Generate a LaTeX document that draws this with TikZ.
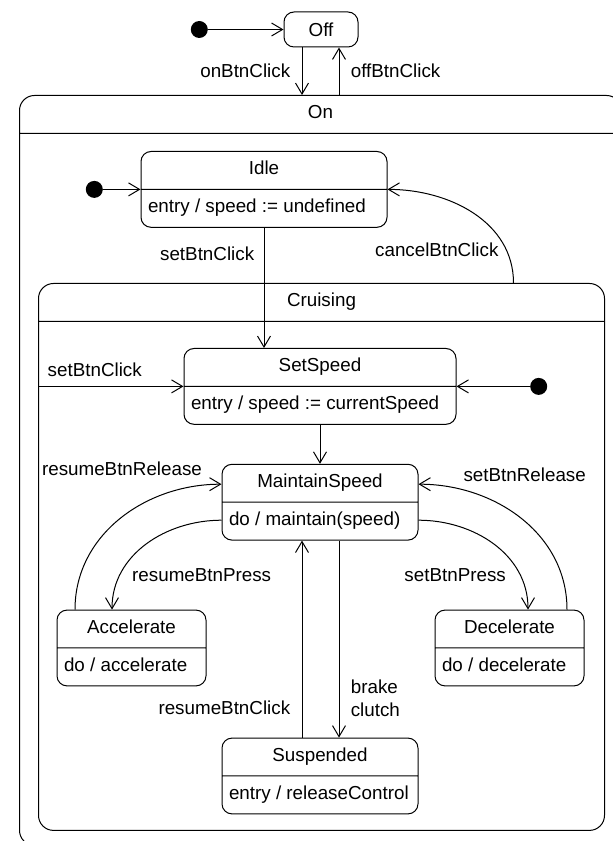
\documentclass[tikz,border=0pt]{standalone}
\usepackage{fontspec}
\setmainfont{Liberation Sans}
\usepackage{tikz}
\usetikzlibrary{shapes.multipart, positioning, arrows.meta}

\begin{document}
\begin{tikzpicture}[
        x=1pt, y=1pt,
        every node/.style={font=\fontsize{18.8}{22.5}\selectfont},
        state/.style={rectangle split, rectangle split parts=2, draw, rounded corners=10pt, line width=1pt, inner xsep=7pt, inner ysep=7.2pt, rectangle split part align={center, left}},
        simple/.style={rectangle, draw, rounded corners=10pt, line width=1pt, minimum width=74pt, minimum height=35pt},
        region/.style={rectangle split, rectangle split parts=2, draw, rounded corners=15pt, line width=1pt, inner ysep=7.2pt},
        start/.style={circle, fill, inner sep=0pt, minimum size=17pt},
        arrow/.style={-{Straight Barb[length=11pt, width=13pt]}, line width=1pt}
    ]
    \useasboundingbox (0,0) rectangle (613,841);
%
    % Etat Off
    \node[simple] (off) at (321,811.5) {Off};
    \node[start, left=75.5pt of off.west] (init0) {};
%
    % Etats composites
    \node[region, minimum width=602pt, anchor=north west] (on) at (19,746) {On\strut \nodepart{two} \rule{0pt}{696.6pt}};
    \node[region, minimum width=566pt, anchor=north west] (cruising) at (38,558) {Cruising\strut \nodepart{two} \rule{0pt}{493.6pt}};
%
    % Etats simples
    \node[state, minimum width=246pt, anchor=north] (idle) at (264,690) {Idle\strut \nodepart{two} entry / speed := undefined\strut};
    \node[start, left=37.5pt of idle.one split west] (init1) {};
    \node[state, minimum width=272pt, anchor=north] (setspeed) at (320,493) {SetSpeed\strut \nodepart{two} entry / speed := currentSpeed\strut};
    \node[start, right=73.5pt of setspeed.one split east] (init2) {};
    \node[state, minimum width=196pt, below=39pt of setspeed] (maintain) {MaintainSpeed\strut \nodepart{two} do / maintain(speed)\strut};
    \node[state, minimum width=149pt, below left=69pt and 15pt of maintain] (accel) {Accelerate\strut \nodepart{two} do / accelerate\strut};
    \node[state, minimum width=149pt, below right=69pt and 16pt of maintain] (decel) {Decelerate\strut \nodepart{two} do / decelerate\strut};
    \node[state, minimum width=196pt, below=197pt of maintain] (suspended) {Suspended\strut \nodepart{two} entry / releaseControl\strut};
%
    % Transitions Off / On
    \coordinate (onin) at ([xshift=-19pt]off.south);
    \coordinate (offout) at ([xshift=18pt]off.south);
    \draw[arrow] (init0) -- (off.west);
    \draw[arrow] (onin) -- (onin |- on.north) node[midway, left=8pt] {onBtnClick};
    \draw[arrow] (offout |- on.north) -- (offout) node[midway, right=8pt] {offBtnClick};
%
    % Transitions dans On
    \coordinate (cancelout) at ([xshift=192pt]cruising.north);
    \draw[arrow] (init1) -- (idle.one split west);
    \draw[arrow] (idle.south) -- (idle.south |- setspeed.north) node[pos=0.22, left=6pt] {setBtnClick};
    \draw[arrow] (cancelout) to[out=90, in=0] node[pos=0.2, left=4pt] {cancelBtnClick} (idle.one split east);
%
    % Transitions dans Cruising
    \draw[arrow] (setspeed.one split west -| cruising.west) -- (setspeed.one split west) node[pos=0.39, above=6pt] {setBtnClick};
    \draw[arrow] (init2) -- (setspeed.one split east);
    \draw[arrow] (setspeed.south) -- (maintain.north);
    \draw[arrow] ([xshift=-56.5pt]accel.north) to[out=90, in=180] node[pos=0.93, above left, yshift=5pt] {resumeBtnRelease} ([yshift=18pt]maintain.one split west);
    \draw[arrow] ([yshift=-18pt]maintain.one split west) to[out=180, in=90] node[pos=0.75, anchor=west, xshift=7pt, yshift=-3pt] {resumeBtnPress} ([xshift=-19.5pt]accel.north);
    \draw[arrow] ([xshift=57.5pt]decel.north) to[out=90, in=0] node[pos=0.75, anchor=south west, xshift=-14pt, yshift=8pt] {setBtnRelease} ([yshift=18pt]maintain.one split east);
    \draw[arrow] ([yshift=-18pt]maintain.one split east) to[out=0, in=90] node[pos=0.75, anchor=east, xshift=-9pt, yshift=-3pt] {setBtnPress} ([xshift=18.5pt]decel.north);
    \draw[arrow] ([xshift=-18pt]suspended.north) -- ([xshift=-18pt]maintain.south) node[pos=0.15, left=8pt] {resumeBtnClick};
    \draw[arrow] ([xshift=19pt]maintain.south) -- ([xshift=19pt]suspended.north) node[pos=0.8, right=8pt, align=left] {brake\\clutch};
%
\end{tikzpicture}
\end{document}
